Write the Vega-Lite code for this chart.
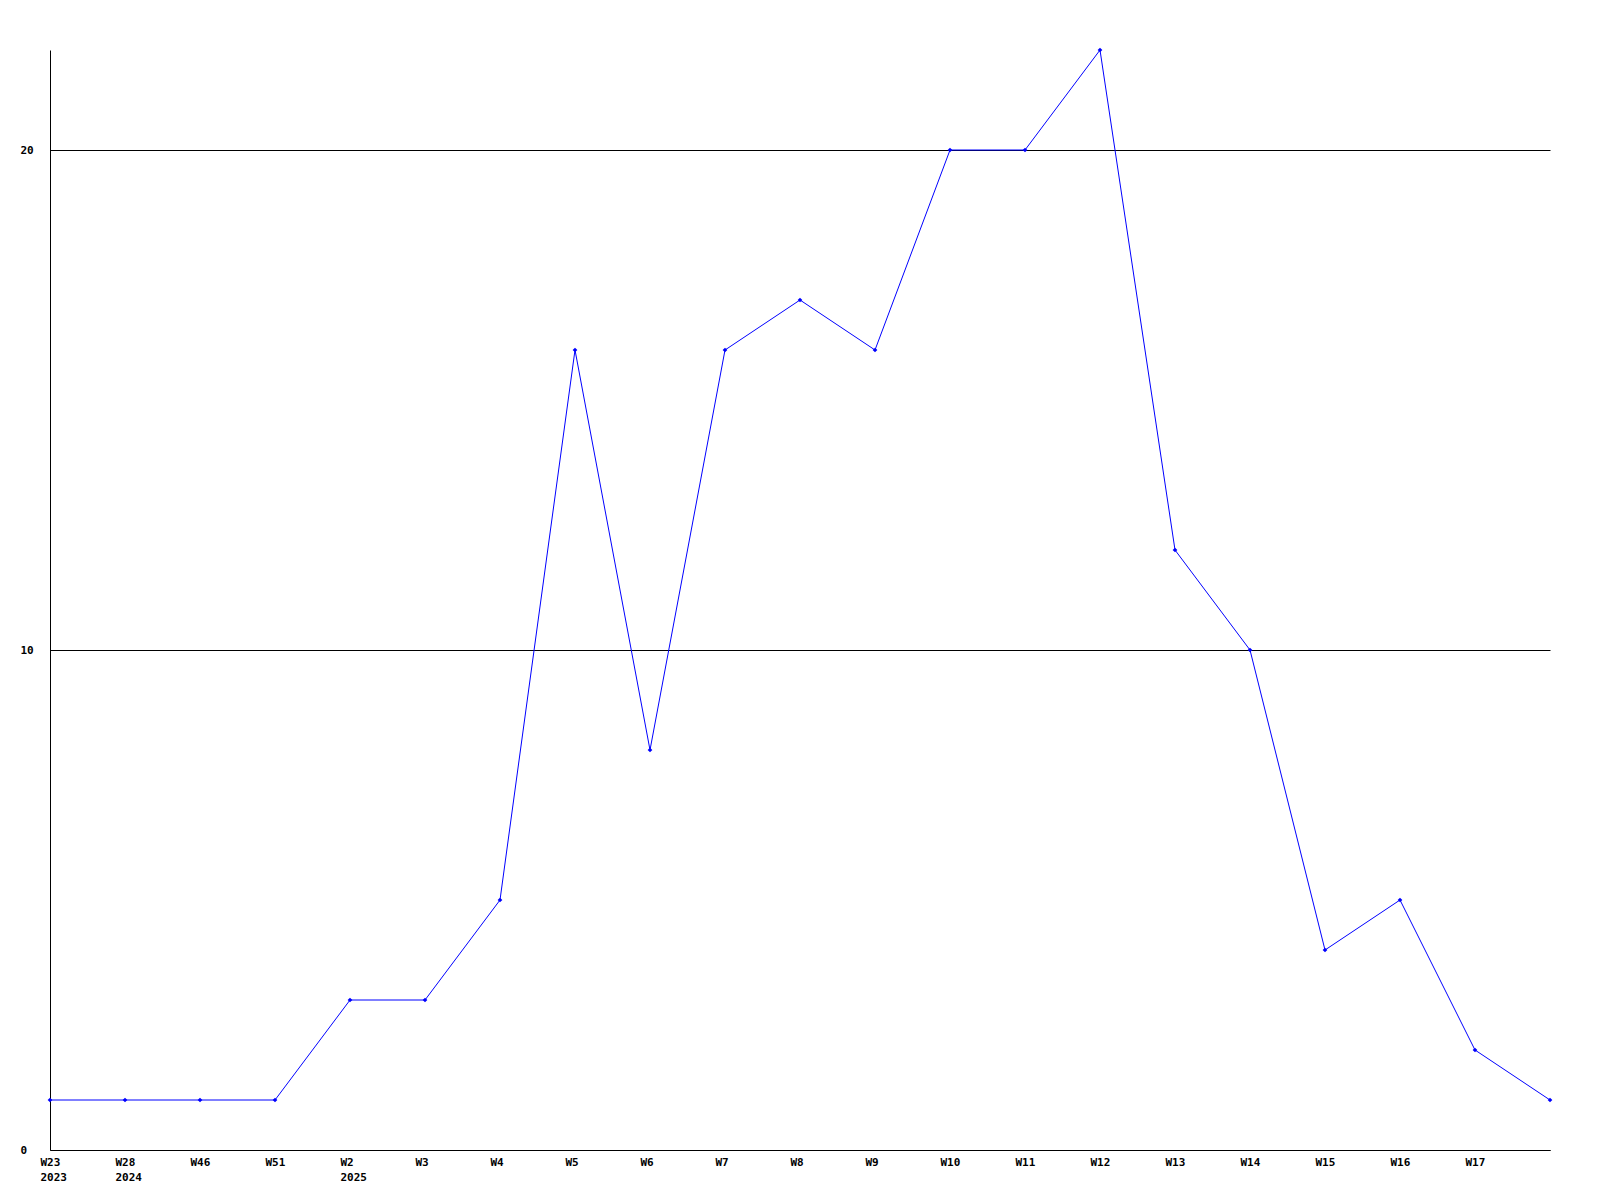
{
  "$schema": "https://vega.github.io/schema/vega-lite/v6.json",
  "width": 1500,
  "height": 1100,
  "autosize": {"type": "none"},
  "padding": {"left": 50, "top": 50, "right": 50, "bottom": 50},
  "background": "white",
  "config": {"view": {"stroke": null}},
  "data": {
    "values": [
      {"week": "W23 2023", "count": 1},
      {"week": "W28 2024", "count": 1},
      {"week": "W46", "count": 1},
      {"week": "W51", "count": 1},
      {"week": "W2 2025", "count": 3},
      {"week": "W3", "count": 3},
      {"week": "W4", "count": 5},
      {"week": "W5", "count": 16},
      {"week": "W6", "count": 8},
      {"week": "W7", "count": 16},
      {"week": "W8", "count": 17},
      {"week": "W9", "count": 16},
      {"week": "W10", "count": 20},
      {"week": "W11", "count": 20},
      {"week": "W12", "count": 22},
      {"week": "W13", "count": 12},
      {"week": "W14", "count": 10},
      {"week": "W15", "count": 4},
      {"week": "W16", "count": 5},
      {"week": "W17", "count": 2},
      {"week": "W18", "count": 1}
    ]
  },
  "encoding": {
    "x": {
      "field": "week",
      "type": "ordinal",
      "sort": null,
      "scale": {"type": "point", "padding": 0},
      "axis": {
        "title": null,
        "labelAngle": 0,
        "ticks": false,
        "domainColor": "black",
        "domainWidth": 1,
        "labelAlign": "left",
        "labelOffset": -10,
        "labelFlush": false,
        "labelOverlap": false,
        "labelPadding": 6,
        "labelFont": "DejaVu Sans Mono",
        "labelFontWeight": "bold",
        "labelFontSize": 11,
        "labelColor": "black",
        "labelLineHeight": 15,
        "labelExpr": "datum.value == 'W18' ? '' : split(datum.value, ' ')",
        "grid": false
      }
    },
    "y": {
      "field": "count",
      "type": "quantitative",
      "scale": {"domain": [0, 22], "nice": false},
      "axis": {
        "title": null,
        "values": [0, 10, 20],
        "ticks": false,
        "grid": true,
        "gridColor": "black",
        "gridOpacity": 1,
        "gridWidth": 1,
        "domainColor": "black",
        "labelAlign": "left",
        "labelPadding": 30,
        "labelFont": "DejaVu Sans Mono",
        "labelFontWeight": "bold",
        "labelFontSize": 11,
        "labelColor": "black"
      }
    }
  },
  "layer": [
    {"mark": {"type": "line", "color": "#0000ff", "strokeWidth": 1}},
    {"mark": {"type": "point", "shape": "diamond", "filled": true, "color": "#0000ff", "size": 22, "opacity": 1}}
  ]
}
